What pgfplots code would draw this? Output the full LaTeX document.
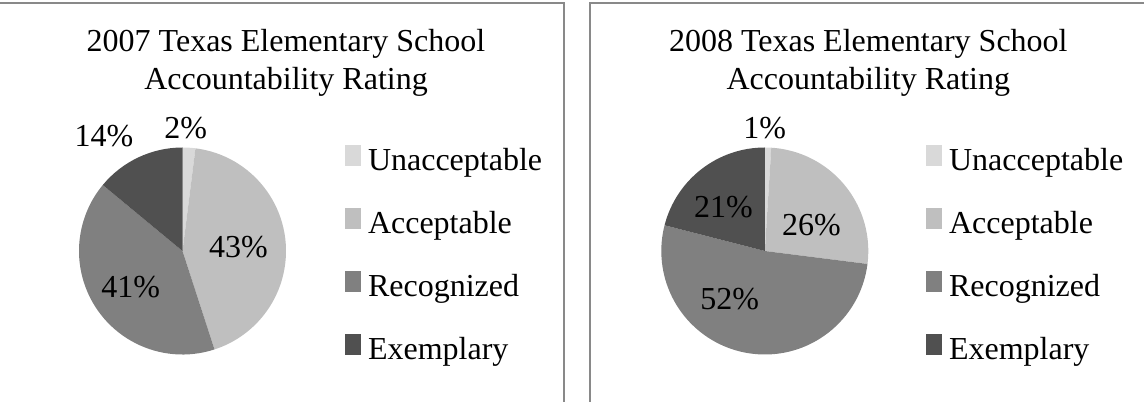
\documentclass[border=0pt]{standalone}
\usepackage{fontspec}
\setmainfont{Liberation Serif}
\usepackage{pgfplots}
\usepackage{pgfplotstable}
\pgfplotsset{compat=1.18}
\definecolor{c0}{HTML}{D9D9D9}
\definecolor{c1}{HTML}{BFBFBF}
\definecolor{c2}{HTML}{808080}
\definecolor{c3}{HTML}{505050}
\definecolor{framegray}{HTML}{898989}

% 2007 shares (clockwise from 12 o'clock) and label positions (in pie radii)
\pgfplotstableread{
value lx ly
2 0.03 1.19
43 0.54 0.04
41 -0.50 -0.35
14 -0.76 1.11
}\dataA
% 2008
\pgfplotstableread{
value lx ly
1 0.00 1.19
26 0.45 0.25
52 -0.34 -0.46
21 -0.40 0.42
}\dataB

\newcommand\bigfont{\fontsize{32bp}{38bp}\selectfont}
\def\pierad{103.5bp}

\newcommand\drawpie[1]{%
  \pgfplotstablegetrowsof{#1}%
  \pgfmathtruncatemacro\nr{\pgfplotsretval-1}%
  \def\cum{90}%
  \pgfplotsforeachungrouped \i in {0,...,\nr}{%
    \pgfplotstablegetelem{\i}{value}\of#1\let\v\pgfplotsretval
    \pgfmathsetmacro\endang{\cum-3.6*\v}%
    \pgfmathsetmacro\sx{cos(\cum)}%
    \pgfmathsetmacro\sy{sin(\cum)}%
    \edef\doit{\noexpand\fill[c\i] (axis cs:0,0) -- (axis cs:\sx,\sy) arc[start angle=\cum, end angle=\endang, radius=\pierad] -- cycle;}%
    \doit
    \let\cum\endang
  }%
  \pgfplotsforeachungrouped \i in {0,...,\nr}{%
    \pgfplotstablegetelem{\i}{value}\of#1\let\v\pgfplotsretval
    \pgfplotstablegetelem{\i}{lx}\of#1\let\lx\pgfplotsretval
    \pgfplotstablegetelem{\i}{ly}\of#1\let\ly\pgfplotsretval
    \edef\doit{\noexpand\node[font=\noexpand\bigfont, inner sep=0pt] at (axis cs:\lx,\ly) {\v\noexpand\%};}%
    \doit
  }%
}

\pgfplotsset{
  piestyle/.style={
    hide axis, scale only axis, x=103.5bp, y=103.5bp,
    xmin=-1.5, xmax=1.5, ymin=-1.5, ymax=1.5,
    anchor=origin, clip=false,
    title style={font=\bigfont, align=center, anchor=north, inner sep=0pt},
    legend cell align=left,
    legend image code/.code={\path (0bp,0bp) rectangle (16bp,18bp); \fill[##1, overlay] (0bp,-3bp) rectangle (16bp,12bp);},
    legend style={anchor=north west, draw=none, fill=none, inner sep=0pt, outer sep=0pt,
      row sep=30.7bp, column sep=7bp, font=\bigfont,
      nodes={inner sep=0pt, text height=22bp, text depth=7bp}},
  }
}

\begin{document}
\begin{tikzpicture}
\useasboundingbox (0,0) rectangle (1144bp,402bp);
\begin{axis}[piestyle, at={(182.5bp,151bp)},
  title={2007 Texas Elementary School\\Accountability Rating},
  title style={at={(axis cs:1.0,2.09)}},
  legend style={at={(axis cs:1.570,1.0285)}}]
\drawpie{\dataA}
\addlegendimage{fill=c0, draw=none}\addlegendentry{Unacceptable}
\addlegendimage{fill=c1, draw=none}\addlegendentry{Acceptable}
\addlegendimage{fill=c2, draw=none}\addlegendentry{Recognized}
\addlegendimage{fill=c3, draw=none}\addlegendentry{Exemplary}
\end{axis}
\begin{axis}[piestyle, at={(764.8bp,151bp)},
  title={2008 Texas Elementary School\\Accountability Rating},
  title style={at={(axis cs:1.0,2.09)}},
  legend style={at={(axis cs:1.558,1.0285)}}]
\drawpie{\dataB}
\addlegendimage{fill=c0, draw=none}\addlegendentry{Unacceptable}
\addlegendimage{fill=c1, draw=none}\addlegendentry{Acceptable}
\addlegendimage{fill=c2, draw=none}\addlegendentry{Recognized}
\addlegendimage{fill=c3, draw=none}\addlegendentry{Exemplary}
\end{axis}
\draw[framegray, line width=2bp] (0bp,399bp) -- (564bp,399bp) -- (564bp,-5bp);
\draw[framegray, line width=2bp] (590bp,-5bp) -- (590bp,399bp) -- (1150bp,399bp);
\end{tikzpicture}
\end{document}
